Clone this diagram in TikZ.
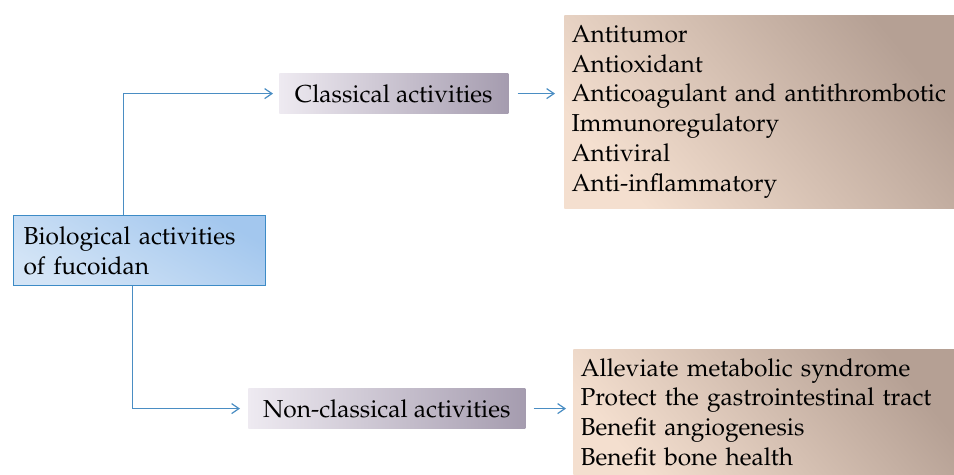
\documentclass[tikz,border=0pt]{standalone}
\usepackage[T1]{fontenc}
\usepackage{mathpazo}
\usepackage{tikz}
\usetikzlibrary{arrows.meta,positioning,calc}

\definecolor{linkblue}{HTML}{4A8DC3}
\definecolor{mainedge}{HTML}{3D8BC6}
\definecolor{mainlight}{HTML}{D3E4F6}
\definecolor{maindark}{HTML}{A3C7EE}
\definecolor{catlight}{HTML}{EEEAF1}
\definecolor{catdark}{HTML}{A59CAF}
\definecolor{listlight}{HTML}{F4DFCF}
\definecolor{listdark}{HTML}{B5A094}

\begin{document}
\begin{tikzpicture}[
  x=0.75pt, y=-0.75pt,
  font=\fontsize{18.4}{22.35}\selectfont,
  rootbox/.style={draw=mainedge, line width=0.8pt, anchor=north west, align=left,
    bottom color=mainlight, top color=maindark, shading angle=-30, inner xsep=7.5pt},
  catbox/.style={anchor=north west, align=center, minimum height=30.5pt,
    left color=catlight, right color=catdark},
  listbox/.style={anchor=north west, align=left, inner xsep=5.5pt,
    bottom color=listlight, top color=listdark, shading angle=-50},
  link/.style={draw=linkblue, line width=0.9pt, -{Straight Barb[length=5.5pt,width=7.5pt]}}
]
\useasboundingbox (0,0) rectangle (954,475);

\node[rootbox, minimum width=189pt, minimum height=52.5pt, text width=174pt] (root) at (13,215)
  {Biological activities\\of fucoidan};

\node[catbox, minimum width=171.75pt] (classical) at (279,73) {Classical activities};
\node[catbox, minimum width=207.75pt] (nonclassical) at (248,388) {Non-classical activities};

\node[listbox, minimum width=292.5pt, minimum height=144.75pt, text width=281.5pt] (classlist) at (564,15)
  {Antitumor\\Antioxidant\\Anticoagulant and antithrombotic\\Immunoregulatory\\Antiviral\\Anti-inflammatory};
\node[listbox, minimum width=285.75pt, minimum height=94.5pt, text width=274.75pt] (nonclasslist) at (573,349)
  {Alleviate metabolic syndrome\\Protect the gastrointestinal tract\\Benefit angiogenesis\\Benefit bone health};

\draw[link, shorten >=4.5pt] ([xshift=-12pt]root.north) |- (classical.west);
\draw[link, shorten >=6pt] ([xshift=-5.25pt]root.south) |- (nonclassical.west);
\draw[link, shorten <=6.75pt, shorten >=6.75pt] (classical.east) -- (classical.east -| classlist.west);
\draw[link, shorten <=6pt, shorten >=5.25pt] (nonclassical.east) -- (nonclassical.east -| nonclasslist.west);

\end{tikzpicture}
\end{document}
